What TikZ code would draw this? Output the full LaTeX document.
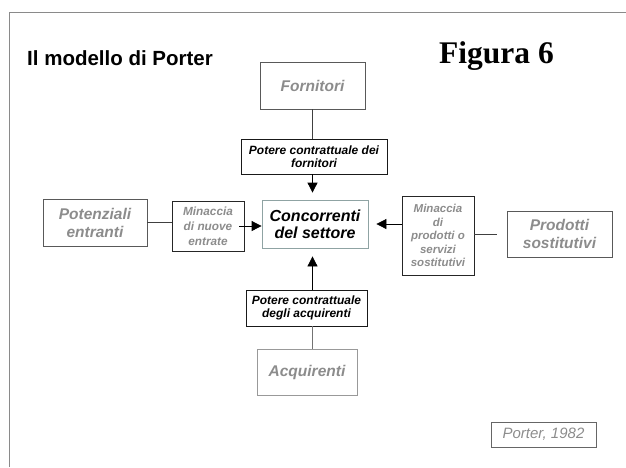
\documentclass[tikz,border=0pt]{standalone}
\usepackage{fontspec}
\setmainfont{Liberation Sans}
\newfontfamily\timesfont{Liberation Serif}
\usetikzlibrary{arrows.meta}
\definecolor{scritta}{HTML}{8C8C8C}
\definecolor{cornice}{HTML}{8A8A8A}
\definecolor{centrale}{HTML}{8FA3A3}
\newcommand{\spessore}{0.8pt}
\newcommand{\punta}{Triangle[length=10pt,width=10pt]}
\tikzset{
  scatola/.style={draw, inner sep=0pt, align=center, line width=\spessore},
  forza/.style={scatola, draw=black!65, text=scritta, font=\fontsize{15.5}{18}\selectfont\bfseries\itshape},
  potere/.style={scatola, draw=black!90, font=\fontsize{12}{12.8}\selectfont\bfseries\itshape},
  minaccia/.style={scatola, draw=black!85, text=scritta, font=\fontsize{11.8}{14.5}\selectfont\bfseries\itshape},
  linea/.style={draw=black!75, line width=\spessore},
  freccia/.style={linea, draw=black, -{\punta}},
}

\begin{document}
\begin{tikzpicture}[x=1pt, y=-1pt]
\useasboundingbox (0,0) rectangle (626,467);
% cornice
\draw[cornice, line width=1pt] (9.3,467) -- (9.3,12.3) -- (626,12.3);
% titoli
\node[anchor=base west, inner sep=0pt, font=\fontsize{20.5}{24}\selectfont\bfseries] (titolo) at (27,65) {Il modello di Porter};
\node[anchor=base west, inner sep=0pt, font=\timesfont\fontsize{31.5}{36}\selectfont\bfseries] (figura) at (439,63.3) {Figura 6};
% forze
\node[forza, minimum width=105pt, minimum height=47pt] (forn) at (312.5,85.5) {Fornitori};
\node[forza, minimum width=104pt, minimum height=47pt] (pote) at (95,222.5) {Potenziali\\entranti};
\node[forza, minimum width=105pt, minimum height=46pt] (prod) at (559.5,234) {Prodotti\\sostitutivi};
\node[forza, draw=black!40, minimum width=100pt, minimum height=46pt] (acqu) at (307,372) {Acquirenti};
\node[scatola, draw=centrale, minimum width=106pt, minimum height=48pt, font=\fontsize{16}{17}\selectfont\bfseries\itshape] (conc) at (315,224) {Concorrenti\\del settore};
% poteri e minacce
\node[potere, minimum width=146pt, minimum height=35pt] (pfor) at (314,156.5) {Potere contrattuale dei\\fornitori};
\node[potere, minimum width=121pt, minimum height=36pt] (pacq) at (306.5,308) {Potere contrattuale\\degli acquirenti};
\node[minaccia, minimum width=72pt, minimum height=50pt, font=\fontsize{11.8}{15}\selectfont\bfseries\itshape] (mnuo) at (208,226) {Minaccia\\di nuove\\entrate};
\node[minaccia, minimum width=72pt, minimum height=79pt, font=\fontsize{11.5}{13.6}\selectfont\bfseries\itshape] (mpro) at (438,235.5) {Minaccia\\di\\prodotti o\\servizi\\sostitutivi};
% fonte
\node[scatola, draw=black!60, text=scritta, minimum width=105pt, minimum height=25pt, font=\fontsize{15}{17}\selectfont\itshape] (port) at (543.5,434.5) {Porter, 1982};
% collegamenti
\draw[linea] (forn.south) -- (forn.south |- pfor.north);
\draw[freccia, shorten >=7pt] (forn.south |- pfor.south) -- (forn.south |- conc.north);
\draw[linea] (pote.east) -- (pote.east -| mnuo.west);
\draw[freccia, shorten <=-5pt] (mnuo.east) -- (mnuo.east -| conc.west);
\draw[freccia, shorten >=8pt] (mpro.west |- conc.east) -- (conc.east);
\draw[linea, shorten >=10pt] (mpro.east |- prod.west) -- (prod.west);
\draw[freccia, shorten >=8pt] (forn.south |- pacq.north) -- (forn.south |- conc.south);
\draw[linea, draw=black!55] (forn.south |- pacq.south) -- (forn.south |- acqu.north);
\end{tikzpicture}
\end{document}
